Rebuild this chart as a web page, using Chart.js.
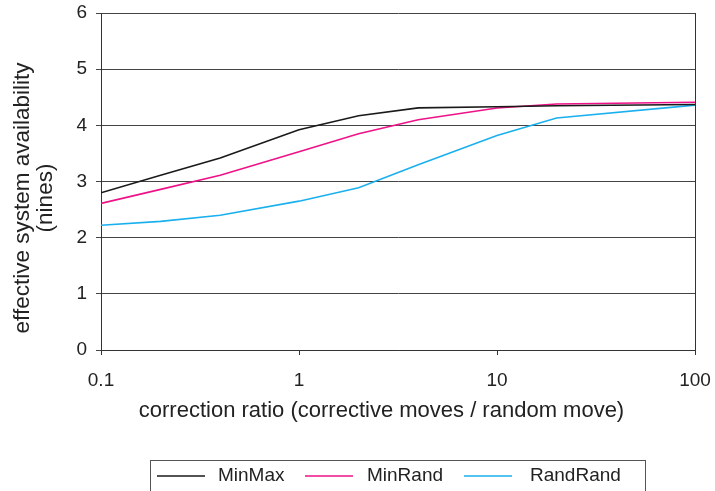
<!DOCTYPE html>
<html>
<head>
<meta charset="utf-8">
<script src="https://cdn.jsdelivr.net/npm/chart.js@4/dist/chart.umd.min.js"></script>
<style>
html,body{margin:0;padding:0;background:#fff;}
#wrap{width:715px;height:491px;position:relative;}
</style>
</head>
<body>
<div id="wrap"><canvas id="c" width="715" height="491"></canvas></div>
<script>
const ratios = [0.1, 0.2, 0.4, 1, 2, 4, 10, 20, 100];
const minMax = [2.80, 3.11, 3.42, 3.92, 4.17, 4.31, 4.33, 4.35, 4.37];
const minRand = [2.61, 2.86, 3.11, 3.53, 3.85, 4.10, 4.31, 4.38, 4.41];
const randRand = [2.22, 2.29, 2.40, 2.65, 2.89, 3.30, 3.82, 4.13, 4.36];
const seriesNames = ['MinMax', 'MinRand', 'RandRand'];
const seriesColors = ['#1a1a1a', '#ee1188', '#1ab0ee'];
const xTickValues = [0.1, 1, 10, 100];
const xTickLabels = ['0.1', '1', '10', '100'];
const xTitle = 'correction ratio (corrective moves / random move)';
const yTitleLines = ['effective system availability', '(nines)'];

const FONT = '"Liberation Sans", Arial, Helvetica, sans-serif';
const TXT = '#222';

function pts(vals){ return ratios.map((r,i)=>({x:r, y:vals[i]})); }

const decor = {
  id: 'decor',
  afterDraw(chart){
    const ctx = chart.ctx;
    const a = chart.chartArea;
    ctx.save();
    ctx.strokeStyle = '#333';
    ctx.lineWidth = 1;
    ctx.beginPath();
    ctx.moveTo(a.right + 0.5, a.top);
    ctx.lineTo(a.right + 0.5, a.bottom);
    ctx.stroke();
    ctx.fillStyle = TXT;
    ctx.font = '22px ' + FONT;
    ctx.textAlign = 'center';
    ctx.textBaseline = 'middle';
    ctx.fillText(xTitle, 381.5, 411);
    ctx.save();
    ctx.translate(34, 198);
    ctx.rotate(-Math.PI/2);
    ctx.font = '22.5px ' + FONT;
    ctx.fillText(yTitleLines[0], 0, -11);
    ctx.fillText(yTitleLines[1], 0, 12);
    ctx.restore();
    ctx.strokeStyle = '#555';
    ctx.lineWidth = 1;
    ctx.strokeRect(150.5, 460.5, 495, 40);
    const lx = [157, 305, 464];
    const tx = [218, 367, 530];
    ctx.font = '19px ' + FONT;
    ctx.textAlign = 'left';
    chart.data.datasets.forEach((ds, i) => {
      ctx.strokeStyle = ds.borderColor;
      ctx.lineWidth = 1.5;
      ctx.beginPath();
      ctx.moveTo(lx[i], 476);
      ctx.lineTo(lx[i] + 48, 476);
      ctx.stroke();
      ctx.fillStyle = TXT;
      ctx.fillText(ds.label, tx[i], 476);
    });
    ctx.restore();
  }
};

new Chart(document.getElementById('c'), {
  type: 'line',
  data: {
    datasets: [
      {label: seriesNames[0], data: pts(minMax), borderColor: seriesColors[0]},
      {label: seriesNames[1], data: pts(minRand), borderColor: seriesColors[1]},
      {label: seriesNames[2], data: pts(randRand), borderColor: seriesColors[2]}
    ].map(d => Object.assign(d, {borderWidth: 1.6, pointRadius: 0, fill: false, tension: 0}))
  },
  options: {
    responsive: false,
    animation: false,
    devicePixelRatio: 1,
    layout: {padding: {left: 0, top: 13, right: 20, bottom: 0}},
    plugins: {legend: {display: false}, tooltip: {enabled: false}},
    scales: {
      x: {
        type: 'logarithmic',
        min: 0.1, max: 100,
        afterBuildTicks: s => { s.ticks = xTickValues.map(v => ({value: v})); },
        afterFit: s => { s.height = 141; s.paddingLeft = 0; s.paddingRight = 0; s.paddingTop = 0; s.paddingBottom = 0; },
        ticks: {
          callback: v => { const i = xTickValues.indexOf(v); return i >= 0 ? xTickLabels[i] : ''; },
          font: {family: FONT, size: 19}, color: TXT, padding: 14, maxRotation: 0, autoSkip: false
        },
        grid: {drawOnChartArea: false, drawTicks: true, tickLength: 5, color: '#333'},
        border: {display: true, color: '#333', width: 1}
      },
      y: {
        min: 0, max: 6,
        afterFit: s => { s.width = 101; s.paddingLeft = 0; s.paddingRight = 0; s.paddingTop = 0; s.paddingBottom = 0; },
        ticks: {stepSize: 1, font: {family: FONT, size: 19}, color: TXT, padding: 9},
        grid: {color: '#444', lineWidth: 1, tickLength: 5},
        border: {display: true, color: '#333', width: 1}
      }
    }
  },
  plugins: [decor]
});
</script>
</body>
</html>
